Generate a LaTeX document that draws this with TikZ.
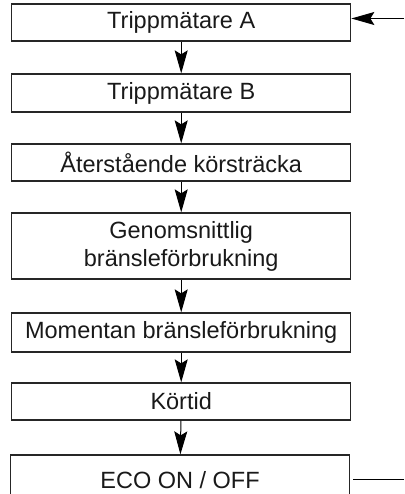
\documentclass[tikz,border=0pt]{standalone}
\usepackage{fontspec}
\setmainfont{Liberation Sans}
\usetikzlibrary{arrows.meta}
\tikzset{
  box/.style={draw=black!85, line width=1.3pt, minimum width=339pt, inner sep=0pt,
    font=\fontsize{23.5}{28}\selectfont, align=center, text=black!90},
  flow/.style={line width=1pt, -{Stealth[length=23pt, width=13pt, inset=4pt]}},
  feed/.style={line width=1pt}
}
\begin{document}
\begin{tikzpicture}[x=1pt,y=-1pt]
\useasboundingbox (0,0) rectangle (404,494);
\clip (0,0) rectangle (404,494);
\node[box, minimum height=37pt] (a) at (181.2,22.5) {Trippmätare A};
\node[box, minimum height=38pt] (b) at (181.2,93) {Trippmätare B};
\node[box, minimum height=37pt] (c) at (181.2,162.5) {Återstående körsträcka};
\node[box, minimum height=66pt] (d) at (181.2,246) {Genomsnittlig\\bränsleförbrukning};
\node[box, minimum height=39pt] (e) at (181.2,332.5) {Momentan bränsleförbrukning};
\node[box, minimum height=37pt] (f) at (181.2,401.5) {Körtid};
\node[box, minimum height=52pt, text height=17pt, text depth=3pt] (g) at (180,481) {ECO ON / OFF};
\coordinate (in) at (404,18.5);
\coordinate (out) at (404,479);
\draw[flow] (a) -- (b);
\draw[flow] (b) -- (c);
\draw[flow] (c) -- (d);
\draw[flow] (d) -- (e);
\draw[flow] (e) -- (f);
\draw[flow] (f) -- (g);
\draw[flow] (in) -- (in -| a.east);
\draw[feed] (out) -- ([xshift=2.5pt]out -| g.east);
\end{tikzpicture}
\end{document}
